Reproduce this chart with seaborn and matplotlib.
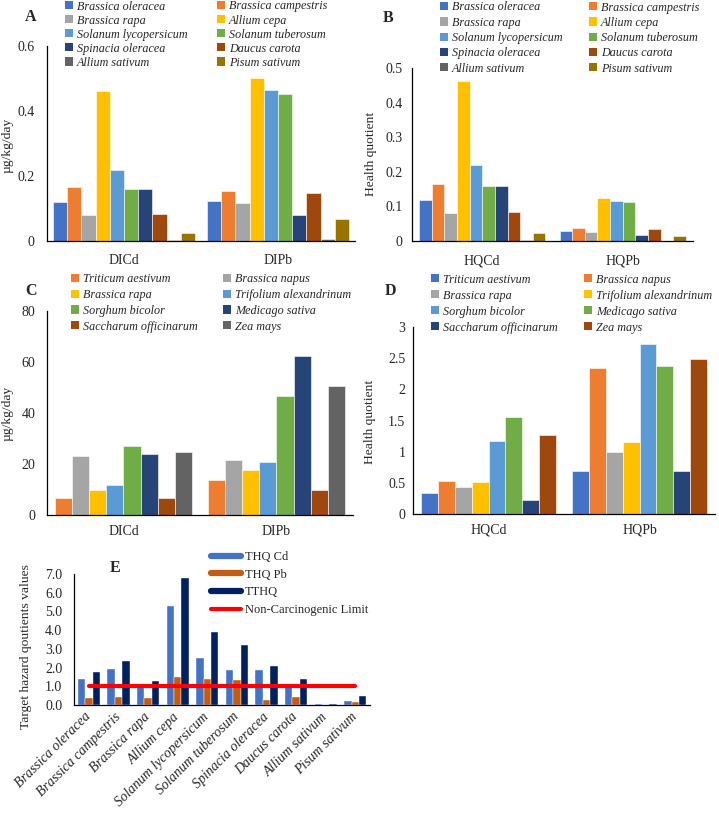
import numpy as np
import pandas as pd
import matplotlib.pyplot as plt
import seaborn as sns
from matplotlib.patches import Patch
from matplotlib.lines import Line2D

# vegetables (panels A, B, E)
veg = ['Brassica oleracea', 'Brassica campestris', 'Brassica rapa', 'Allium cepa',
       'Solanum lycopersicum', 'Solanum tuberosum', 'Spinacia oleracea', 'Daucus carota',
       'Allium sativum', 'Pisum sativum']
veg_colors = ['#4472C4', '#ED7D31', '#A5A5A5', '#FFC000', '#5B9BD5',
              '#70AD47', '#264478', '#9E480E', '#636363', '#997300']

# A: daily intake (µg/kg/day)
di_groups = ['DICd', 'DIPb']
di_cd_veg = [0.120, 0.166, 0.081, 0.462, 0.219, 0.160, 0.160, 0.083, 0.004, 0.025]
di_pb_veg = [0.124, 0.153, 0.118, 0.502, 0.464, 0.451, 0.080, 0.147, 0.006, 0.069]

# B: health quotient
hq_groups = ['HQCd', 'HQPb']
hq_cd_veg = [0.118, 0.166, 0.080, 0.462, 0.219, 0.160, 0.160, 0.083, 0.003, 0.024]
hq_pb_veg = [0.029, 0.037, 0.027, 0.124, 0.115, 0.112, 0.018, 0.035, 0.001, 0.015]

# fodder crops (panels C, D)
crops = ['Triticum aestivum', 'Brassica napus', 'Brassica rapa', 'Trifolium alexandrinum',
         'Sorghum bicolor', 'Medicago sativa', 'Saccharum officinarum', 'Zea mays']
crop_colors_c = ['#ED7D31', '#A5A5A5', '#FFC000', '#5B9BD5', '#70AD47', '#264478', '#9E480E', '#636363']
crop_colors_d = ['#4472C4', '#ED7D31', '#A5A5A5', '#FFC000', '#5B9BD5', '#70AD47', '#264478', '#9E480E']

di_cd_crop = [6.8, 23.3, 9.7, 11.6, 27.1, 23.8, 6.8, 24.8]
di_pb_crop = [13.9, 21.6, 17.5, 20.7, 46.7, 62.4, 9.7, 50.5]
hq_cd_crop = [0.34, 0.53, 0.43, 0.51, 1.17, 1.56, 0.23, 1.26]
hq_pb_crop = [0.69, 2.35, 0.99, 1.16, 2.72, 2.38, 0.69, 2.49]

# E: target hazard quotients
thq_names = ['THQ Cd', 'THQ Pb', 'TTHQ']
thq_colors = ['#4472C4', '#C55A11', '#002060']
thq_cd = [1.39, 1.92, 0.98, 5.29, 2.50, 1.85, 1.85, 0.98, 0.05, 0.23]
thq_pb = [0.37, 0.44, 0.36, 1.49, 1.39, 1.33, 0.25, 0.44, 0.01, 0.18]
tthq = [1.74, 2.36, 1.30, 6.80, 3.91, 3.20, 2.10, 1.40, 0.06, 0.50]
limit = 1.0

sns.set_style('white')
plt.rcParams['font.family'] = ['Liberation Serif', 'DejaVu Serif']

W, H = 719, 813
fig = plt.figure(figsize=(W / 100, H / 100), dpi=100)


def px_axes(l, t, r, b):
    return fig.add_axes([l / W, 1 - b / H, (r - l) / W, (b - t) / H])


def fpt(x, y):
    return (x / W, 1 - y / H)


def style_axes(ax, ticks, fmt, ylabel, lab_x, lab_y, ypad=7, xpad=6):
    sns.despine(ax=ax)
    for s in ['left', 'bottom']:
        ax.spines[s].set_color('black')
        ax.spines[s].set_linewidth(0.9)
    ax.set_ylim(ticks[0], ticks[-1])
    ax.set_yticks(ticks)
    ax.set_yticklabels([fmt(t) for t in ticks])
    ax.tick_params(axis='y', length=0, pad=ypad, labelsize=10)
    ax.tick_params(axis='x', length=0, pad=xpad, labelsize=10)
    ax.set_xlabel('')
    ax.set_ylabel(ylabel, fontsize=9.7)
    ax.yaxis.set_label_coords(*fpt(lab_x, lab_y), transform=fig.transFigure)


def grouped(ax, groups, cols, names, colors, width):
    df = pd.DataFrame({'group': np.repeat(groups, len(names)),
                       'species': names * len(groups),
                       'value': np.concatenate(cols)})
    sns.barplot(data=df, x='group', y='value', hue='species', hue_order=names,
                palette=colors, saturation=1, width=width, legend=False, ax=ax,
                edgecolor='white', linewidth=0.4)


def legend_at(names, colors, x, y, ls, cs, fs=8.7):
    # entries read row by row in the original, matplotlib fills columns first
    order = list(range(0, len(names), 2)) + list(range(1, len(names), 2))
    handles = [Patch(facecolor=colors[i], edgecolor='none') for i in order]
    labels = [names[i] for i in order]
    fig.legend(handles, labels, ncol=2, loc='upper left', bbox_to_anchor=fpt(x, y),
               frameon=False, prop={'family': 'Liberation Serif', 'style': 'italic', 'size': fs},
               handlelength=0.65, handleheight=0.65, handletextpad=0.35,
               labelspacing=ls, columnspacing=cs, borderpad=0, borderaxespad=0)


g = lambda t: f'{t:g}'

# A
axA = px_axes(47, 46, 355, 241)
grouped(axA, di_groups, [di_cd_veg, di_pb_veg], veg, veg_colors, 0.92)
style_axes(axA, [0, 0.2, 0.4, 0.6], g, 'µg/kg/day', 14, 145, ypad=9, xpad=9.5)
legend_at(veg, veg_colors, 65, 0.5, 0.17, 2.4)
fig.text(*fpt(25, 17), 'A', fontsize=11.5, fontweight='bold', va='center')

# B
axB = px_axes(412, 68, 693, 241)
grouped(axB, hq_groups, [hq_cd_veg, hq_pb_veg], veg, veg_colors, 0.9)
style_axes(axB, [0, 0.1, 0.2, 0.3, 0.4, 0.5], g, 'Health quotient', 377, 154, ypad=7, xpad=9.5)
legend_at(veg, veg_colors, 440, 1.5, 0.27, 2.15)
fig.text(*fpt(383, 18), 'B', fontsize=11.5, fontweight='bold', va='center')

# C
axC = px_axes(47, 311, 353, 515)
grouped(axC, di_groups, [di_cd_crop, di_pb_crop], crops, crop_colors_c, 0.9)
style_axes(axC, [0, 20, 40, 60, 80], g, 'µg/kg/day', 14, 413, ypad=8.5, xpad=7)
legend_at(crops, crop_colors_c, 71, 273, 0.32, 2.1)
fig.text(*fpt(25, 291), 'C', fontsize=11.5, fontweight='bold', va='center')

# D
axD = px_axes(413, 327, 715, 514)
grouped(axD, hq_groups, [hq_cd_crop, hq_pb_crop], crops, crop_colors_d, 0.9)
style_axes(axD, [0, 0.5, 1, 1.5, 2, 2.5, 3], g, 'Health quotient', 376, 422, ypad=5.5, xpad=7)
legend_at(crops, crop_colors_d, 431, 273.7, 0.33, 2.15)
fig.text(*fpt(385, 291), 'D', fontsize=11.5, fontweight='bold', va='center')

# E
axE = px_axes(74, 574, 370, 705)
dfE = pd.DataFrame({'species': veg * 3,
                    'index': np.repeat(thq_names, len(veg)),
                    'value': np.concatenate([thq_cd, thq_pb, tthq])})
sns.barplot(data=dfE, x='species', y='value', hue='index', hue_order=thq_names,
            palette=thq_colors, saturation=1, width=0.75, legend=False, ax=axE,
            edgecolor='white', linewidth=0.3)
sns.lineplot(x=np.arange(len(veg)), y=[limit] * len(veg), color='red', lw=3,
             legend=False, ax=axE)
axE.set_xlim(-0.5, len(veg) - 0.5)
style_axes(axE, [0, 1, 2, 3, 4, 5, 6, 7], lambda t: f'{t:.1f}',
           'Target hazard qoutients values', 32, 647, ypad=8.5)
for lab in axE.get_xticklabels():
    lab.set_rotation(45)
    lab.set_ha('right')
    lab.set_va('center')
    lab.set_rotation_mode('anchor')
    lab.set_style('italic')
axE.tick_params(axis='x', pad=7, labelsize=10)
hE = [Line2D([], [], color=c, lw=4.5) for c in thq_colors] + [Line2D([], [], color='red', lw=3)]
fig.legend(hE, thq_names + ['Non-Carcinogenic Limit'], loc='upper left',
           bbox_to_anchor=fpt(211, 551), frameon=False, fontsize=9,
           handlelength=2.4, handletextpad=0.3, labelspacing=0.45,
           borderpad=0, borderaxespad=0)
fig.text(*fpt(110, 568), 'E', fontsize=11.5, fontweight='bold', va='center')

fig.savefig('out.png', dpi=100)
